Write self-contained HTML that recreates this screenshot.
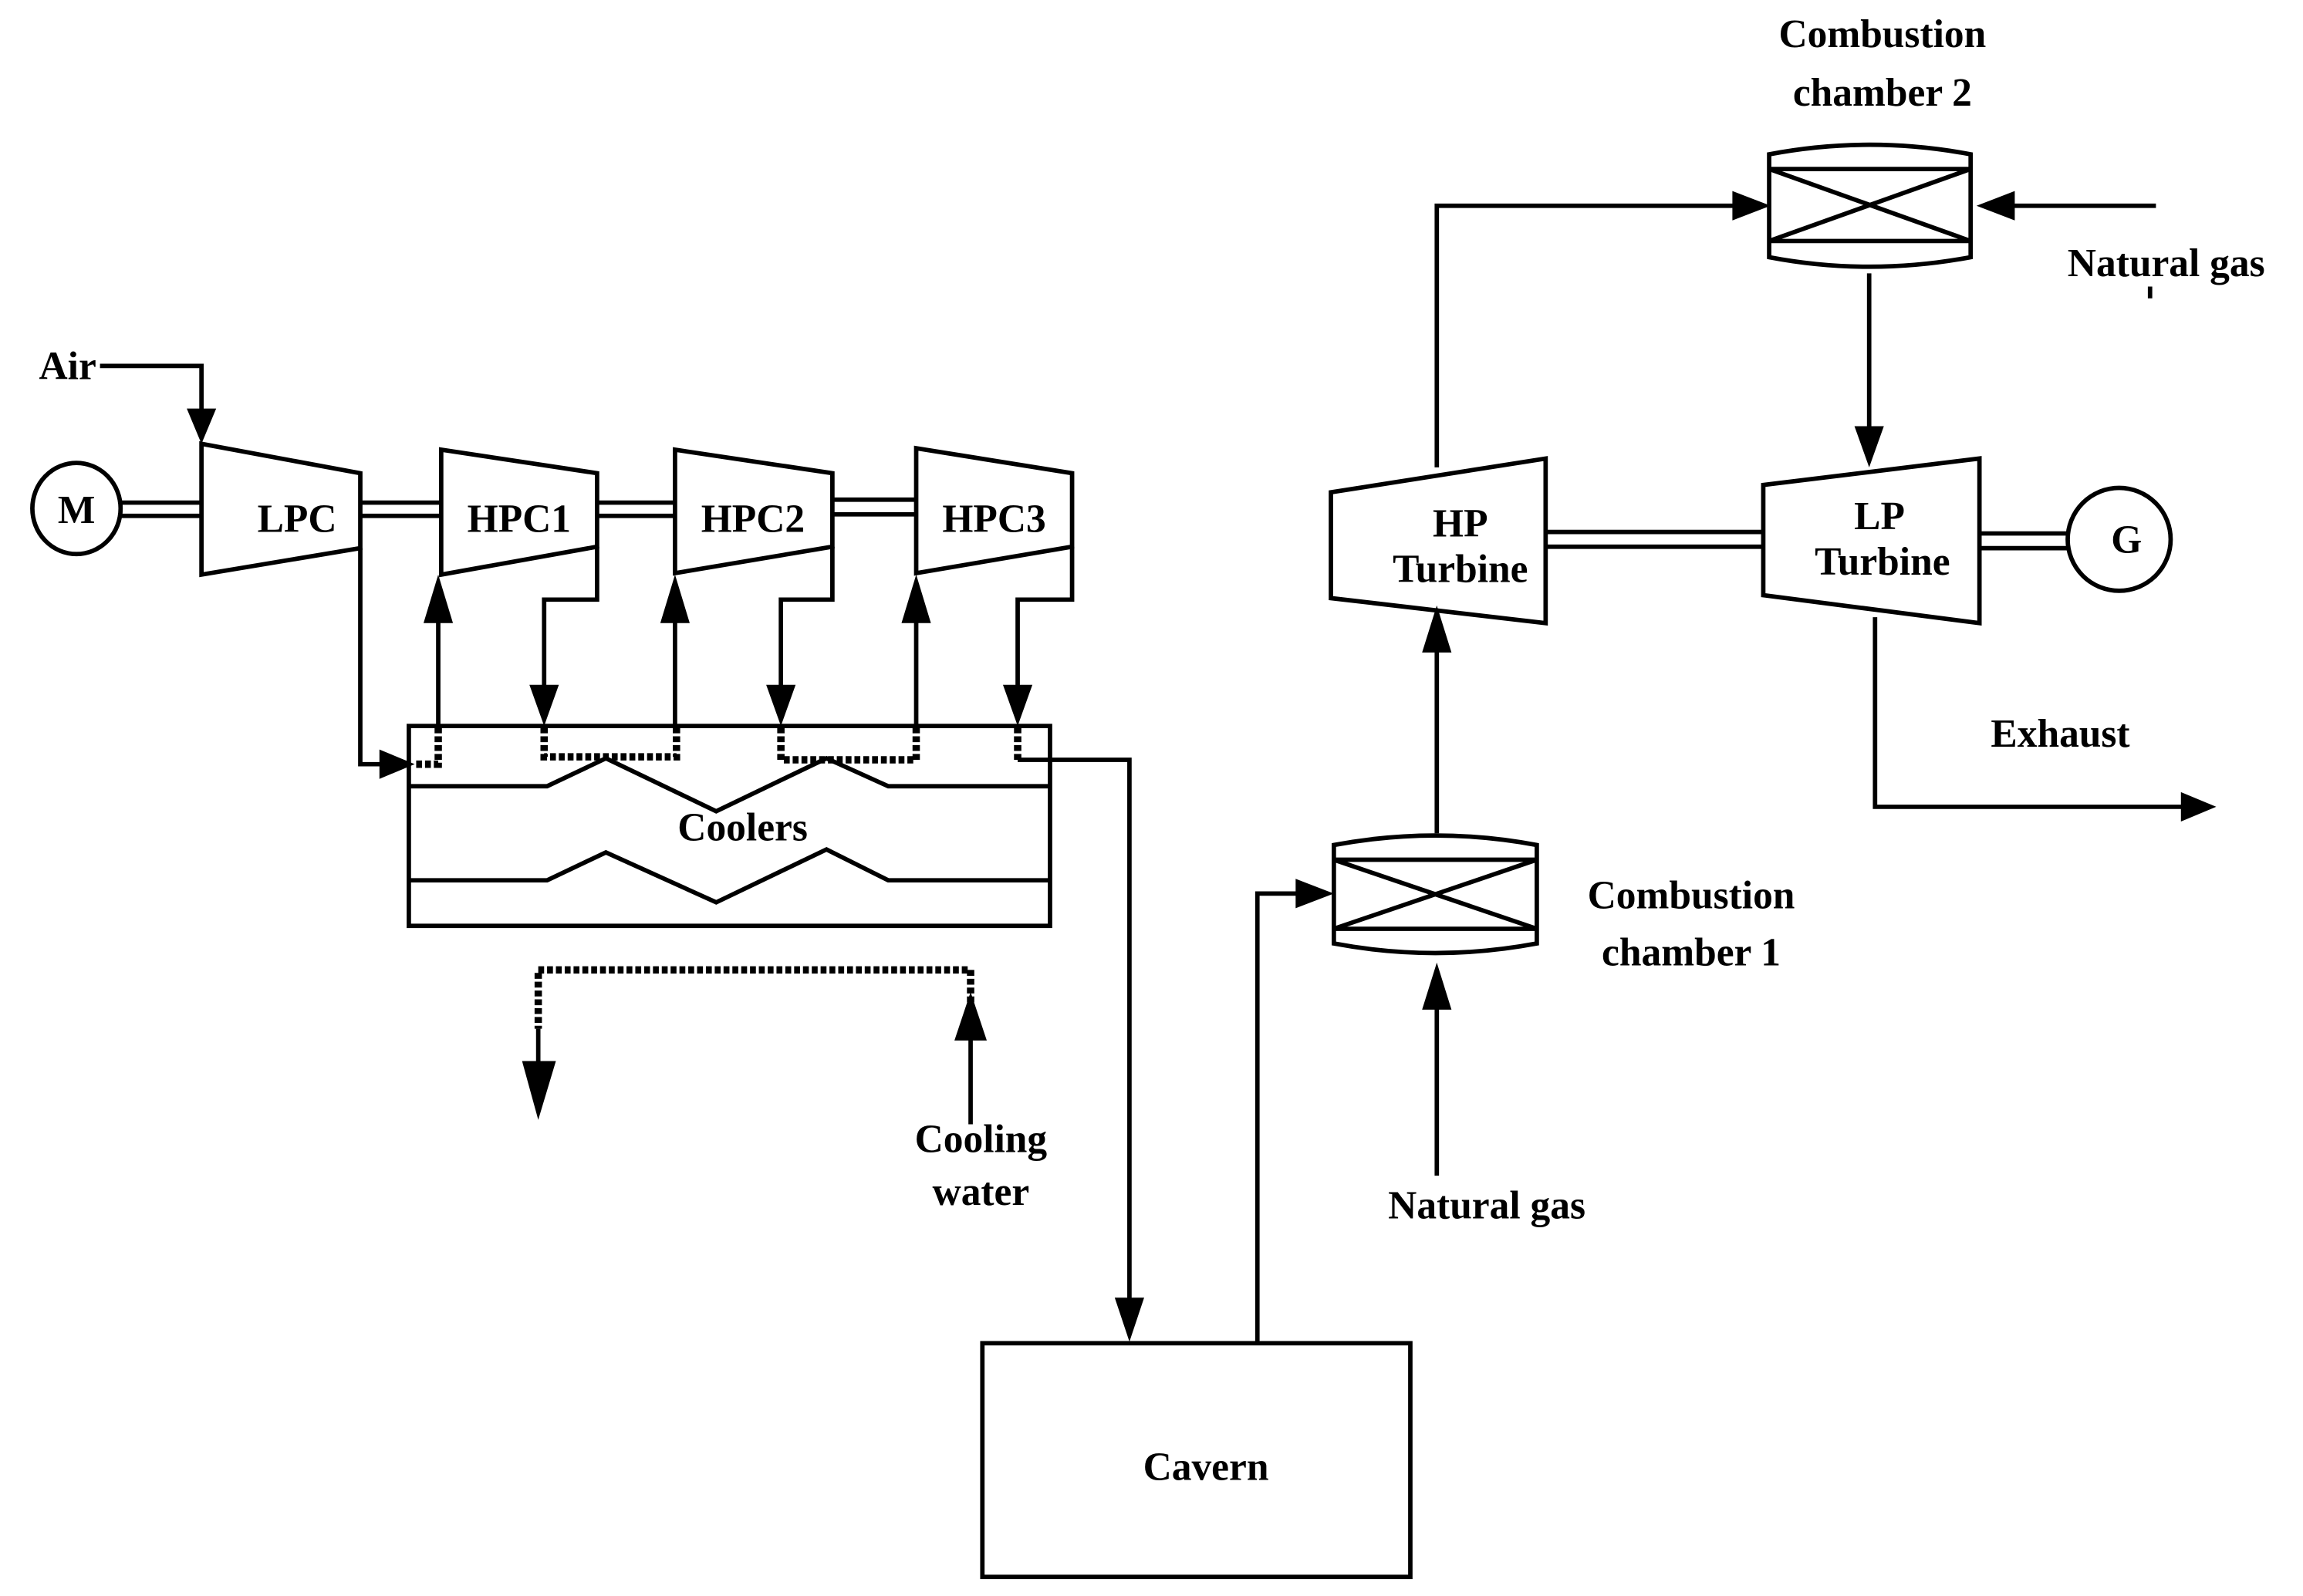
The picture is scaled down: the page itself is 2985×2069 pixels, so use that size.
<!DOCTYPE html>
<html><head><meta charset="utf-8"><style>html,body{margin:0;padding:0;background:#fff}svg{display:block}</style></head>
<body>
<svg width="2985" height="2069" viewBox="0 0 1566 1086" preserveAspectRatio="none" xmlns="http://www.w3.org/2000/svg">
<g fill="none" stroke="#000" stroke-width="3" stroke-linejoin="miter">
<ellipse cx="52" cy="346" rx="30" ry="31"/>
<path d="M82 342H137M82 351H137"/>
<path d="M137 302L245 322V373L137 391Z"/>
<path d="M245 342H300M245 351H300"/>
<path d="M300 306L406 322V372L300 391Z"/>
<path d="M406 342H459M406 351H459"/>
<path d="M459 306L566 322V372L459 390Z"/>
<path d="M566 340H623M566 350H623"/>
<path d="M623 305L729 322V372L623 390Z"/>
<path d="M68 249H137V280"/>
<path d="M245 373V520H262"/>
<path d="M298 495V420M459 495V420M623 495V420"/>
<path d="M406 372V408H370V468M566 372V408H531V468M729 372V408H692V468"/>
<rect x="278" y="494" width="436" height="136"/>
<path d="M278 535H372L412 516L487 552L562 516L604 535H714"/>
<path d="M278 599H372L412 580L487 614L562 578L604 599H714"/>
<path d="M692 517H768V885"/>
<rect x="668" y="914" width="291" height="159"/>
<path d="M855 914V608H885"/>
<path d="M907 575Q976 562 1045 575V642Q976 655 907 642Z"/>
<path d="M907 585H1045M907 632H1045M907 585L1045 632M907 632L1045 585"/>
<path d="M977 800V685"/>
<path d="M977 567V440"/>
<path d="M905 335L1051 312V424L905 407Z"/>
<path d="M977 318V140H1180"/>
<path d="M1203 105Q1271 92 1340 105V175Q1271 188 1203 175Z"/>
<path d="M1203 115H1340M1203 164H1340M1203 115L1340 164M1203 164L1340 115"/>
<path d="M1466 140H1368"/>
<path d="M1271 186V290"/>
<path d="M1199 330L1346 312V424L1199 405Z"/>
<path d="M1051 362H1199M1051 372H1199"/>
<path d="M1346 363H1406M1346 373H1406"/>
<circle cx="1441" cy="367" r="35"/>
<path d="M1275 420V549H1485"/>
<path d="M1462 195V203"/>
<path d="M366 700V725M660 765V700"/>
</g>
<g fill="none" stroke="#000" stroke-width="5" stroke-dasharray="4 2">
<path d="M298 495V520H282"/>
<path d="M370 495V515H460V495"/>
<path d="M531 495V517H623V495"/>
<path d="M692 495V517"/>
<path d="M660 700V660H366V700"/>
</g>
<g fill="#000">
<path d="M127 278L147 278L137 302Z"/>
<path d="M258 510L282 520L258 530Z"/>
<path d="M288 424L308 424L298 391Z"/>
<path d="M449 424L469 424L459 391Z"/>
<path d="M613 424L633 424L623 391Z"/>
<path d="M360 466L380 466L370 494Z"/>
<path d="M521 466L541 466L531 494Z"/>
<path d="M682 466L702 466L692 494Z"/>
<path d="M758 883L778 883L768 913Z"/>
<path d="M881 598L907 608L881 618Z"/>
<path d="M967 444L987 444L977 412Z"/>
<path d="M967 687L987 687L977 655Z"/>
<path d="M1178 130L1204 140L1178 150Z"/>
<path d="M1370 130L1344 140L1370 150Z"/>
<path d="M1261 290L1281 290L1271 318Z"/>
<path d="M1483 539L1507 549L1483 559Z"/>
<path d="M355 722L378 722L366 762Z"/>
<path d="M649 708L671 708L660 675Z"/>
</g>
<g font-family="Liberation Serif, serif" font-weight="bold" font-size="27" text-anchor="middle" fill="#000">
<text x="52" y="356">M</text>
<text x="202" y="362">LPC</text>
<text x="353" y="362">HPC1</text>
<text x="512" y="362">HPC2</text>
<text x="676" y="362">HPC3</text>
<text x="46" y="258">Air</text>
<text x="505" y="572">Coolers</text>
<text x="667" y="784">Cooling</text>
<text x="667" y="820">water</text>
<text x="820" y="1007">Cavern</text>
<text x="1011" y="829">Natural gas</text>
<text x="1150" y="618">Combustion</text>
<text x="1150" y="657">chamber 1</text>
<text x="1280" y="32">Combustion</text>
<text x="1280" y="72">chamber 2</text>
<text x="1473" y="188">Natural gas</text>
<text x="993" y="365">HP</text>
<text x="993" y="396">Turbine</text>
<text x="1278" y="360">LP</text>
<text x="1280" y="391">Turbine</text>
<text x="1446" y="376">G</text>
<text x="1401" y="508">Exhaust</text>
</g>
</svg>
</body></html>
